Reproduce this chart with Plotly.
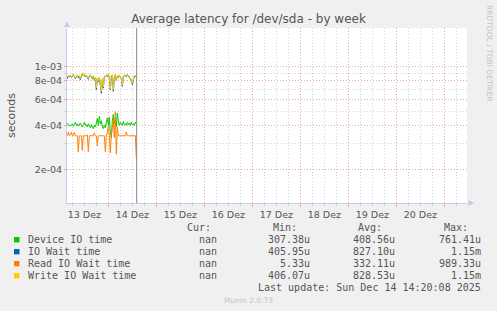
import plotly.graph_objects as go
import pandas as pd
import math

# ---------------- data ----------------
start_time = "2025-12-13 03:30"
n_points = 70
times = pd.date_range(start_time, periods=n_points, freq="30min")

device_io = [4.15e-4, 4.05e-4, 3.95e-4, 4.0e-4, 4.0e-4, 4.1e-4, 3.95e-4, 4.05e-4, 4.2e-4, 4.0e-4,
             4.1e-4, 3.95e-4, 4.05e-4, 4.15e-4, 4.0e-4, 3.9e-4, 4.05e-4, 4.2e-4, 4.0e-4, 4.05e-4,
             3.9e-4, 4.1e-4, 4.0e-4, 3.85e-4, 4.05e-4, 3.95e-4, 3.8e-4, 4.0e-4, 3.9e-4, 4.15e-4,
             4.45e-4, 4.0e-4, 4.6e-4, 4.1e-4, 4.3e-4, 3.9e-4, 3.8e-4, 4.0e-4, 3.85e-4, 4.2e-4,
             4.5e-4, 4.0e-4, 4.55e-4, 3.6e-4, 3.3e-4, 4.3e-4, 4.75e-4, 4.1e-4, 4.4e-4, 3.9e-4,
             4.85e-4, 4.3e-4, 4.0e-4, 4.2e-4, 4.1e-4, 4.0e-4, 4.25e-4, 4.05e-4, 4.1e-4, 4.0e-4,
             4.2e-4, 4.05e-4, 4.15e-4, 4.0e-4, 4.2e-4, 4.05e-4, 4.1e-4, 4.0e-4, 4.2e-4, 4.1e-4]

io_wait = [8.3e-4, 8.65e-4, 8.55e-4, 8.75e-4, 8.45e-4, 8.65e-4, 8.85e-4, 8.55e-4, 8.3e-4, 8.55e-4,
           8.75e-4, 8.4e-4, 8.65e-4, 8.15e-4, 8.55e-4, 9.05e-4, 8.65e-4, 8.85e-4, 8.55e-4, 8.75e-4,
           8.45e-4, 8.2e-4, 8.65e-4, 8.75e-4, 8.55e-4, 8.3e-4, 8.65e-4, 8.1e-4, 8.45e-4, 7.0e-4,
           8.35e-4, 7.9e-4, 8.45e-4, 7.45e-4, 6.6e-4, 8.25e-4, 7.15e-4, 8.55e-4, 8.65e-4, 8.75e-4,
           8.55e-4, 8.85e-4, 8.45e-4, 6.95e-4, 8.55e-4, 8.75e-4, 6.8e-4, 8.45e-4, 8.85e-4, 8.1e-4,
           8.65e-4, 8.45e-4, 8.75e-4, 8.55e-4, 8.35e-4, 7.35e-4, 8.55e-4, 8.75e-4, 8.65e-4, 8.55e-4,
           8.85e-4, 8.65e-4, 8.55e-4, 8.35e-4, 8.1e-4, 7.55e-4, 8.25e-4, 8.65e-4, 8.55e-4, 8.75e-4]

read_io_wait = [3.4e-4, 3.6e-4, 3.4e-4, 3.45e-4, 3.6e-4, 3.4e-4, 3.4e-4, 3.6e-4, 3.4e-4, 3.4e-4,
                3.4e-4, 2.65e-4, 3.4e-4, 3.4e-4, 3.4e-4, 2.7e-4, 3.4e-4, 3.4e-4, 3.4e-4, 3.4e-4,
                3.45e-4, 2.65e-4, 3.4e-4, 3.4e-4, 3.4e-4, 3.4e-4, 3.4e-4, 3.55e-4, 3.4e-4, 3.4e-4,
                2.9e-4, 3.4e-4, 3.4e-4, 3.4e-4, 3.4e-4, 3.4e-4, 3.4e-4, 3.4e-4, 2.65e-4, 3.4e-4,
                3.6e-4, 3.95e-4, 3.4e-4, 2.6e-4, 3.4e-4, 3.9e-4, 4.4e-4, 3.3e-4, 4.96e-4, 2.55e-4,
                3.9e-4, 3.4e-4, 3.4e-4, 3.4e-4, 3.4e-4, 3.4e-4, 3.4e-4, 3.4e-4, 3.4e-4, 3.6e-4,
                3.4e-4, 3.4e-4, 3.4e-4, 3.4e-4, 3.4e-4, 3.4e-4, 3.4e-4, 3.4e-4, 3.4e-4, 2.4e-4]

write_io_wait = [8.5e-4, 8.7e-4, 8.6e-4, 8.8e-4, 8.5e-4, 8.7e-4, 8.9e-4, 8.6e-4, 8.4e-4, 8.6e-4,
                 8.8e-4, 8.5e-4, 8.7e-4, 8.3e-4, 8.6e-4, 9.1e-4, 8.7e-4, 8.9e-4, 8.6e-4, 8.8e-4,
                 8.5e-4, 8.3e-4, 8.7e-4, 8.8e-4, 8.6e-4, 8.4e-4, 8.7e-4, 8.2e-4, 8.5e-4, 7.2e-4,
                 8.4e-4, 8.0e-4, 8.5e-4, 7.6e-4, 6.8e-4, 8.3e-4, 7.3e-4, 8.6e-4, 8.7e-4, 8.8e-4,
                 8.6e-4, 8.9e-4, 8.5e-4, 7.1e-4, 8.6e-4, 8.8e-4, 7.0e-4, 8.5e-4, 8.9e-4, 8.2e-4,
                 8.7e-4, 8.5e-4, 8.8e-4, 8.6e-4, 8.4e-4, 7.5e-4, 8.6e-4, 8.8e-4, 8.7e-4, 8.6e-4,
                 8.9e-4, 8.7e-4, 8.6e-4, 8.4e-4, 8.2e-4, 7.7e-4, 8.3e-4, 8.7e-4, 8.6e-4, 8.8e-4]

series_names = ["Device IO time", "IO Wait time", "Read IO Wait time", "Write IO Wait time"]
series_colors = ["#00CC00", "#0066B3", "#FF8000", "#FFCC00"]
series_values = [device_io, io_wait, read_io_wait, write_io_wait]

cur_vals = ["nan", "nan", "nan", "nan"]
min_vals = ["307.38u", "405.95u", "5.33u", "406.07u"]
avg_vals = ["408.56u", "827.10u", "332.11u", "828.53u"]
max_vals = ["761.41u", "1.15m", "989.33u", "1.15m"]

y_tickvals = [2e-4, 4e-4, 6e-4, 8e-4, 1e-3]
y_ticktext = ["2e-04", "4e-04", "6e-04", "8e-04", "1e-03"]
y_minorvals = [3e-4, 5e-4, 7e-4, 9e-4]

x_range = ["2025-12-13 03:20", "2025-12-21 11:20"]
y_range = [1.19e-4, 1.83e-3]
now_line = "2025-12-14 14:10"

title_text = "Average latency for /dev/sda - by week"
last_update = "Last update: Sun Dec 14 14:20:08 2025"

# ---------------- geometry ----------------
W, H = 497, 311
L, R, T, B = 67, 467, 28, 203


def px(x):
    return (x - L) / (R - L)


def py(y):
    return (B - y) / (B - T)


TXT = "#555555"
MONO = "DejaVu Sans Mono"
SANS = "DejaVu Sans"

fig = go.Figure()
for name, color, vals in zip(series_names, series_colors, series_values):
    fig.add_trace(go.Scatter(x=times, y=vals, mode="lines", name=name,
                             line=dict(color=color, width=1), showlegend=False,
                             hoverinfo="skip"))

fig.update_layout(
    width=W, height=H,
    margin=dict(l=L, r=W - R, t=T, b=H - B, pad=0),
    paper_bgcolor="#F0F0F0", plot_bgcolor="#FFFFFF",
    title=dict(text=title_text, x=0.5, xref="container", xanchor="center",
               y=1 - 19 / H, yref="container", yanchor="middle",
               font=dict(family=SANS, size=12, color=TXT)),
    showlegend=False,
)

fig.update_xaxes(
    type="date", range=x_range,
    tickmode="linear", tick0="2025-12-13", dtick=86400000,
    ticklabelmode="period", tickformat="%d Dez",
    tickfont=dict(family=SANS, size=9.5, color=TXT),
    showgrid=True, gridcolor="#F0A0A0", griddash="1px,2px", gridwidth=1,
    ticks="outside", ticklen=3, tickcolor="#F0A0A0",
    minor=dict(dtick=21600000, tick0="2025-12-13", showgrid=True,
               gridcolor="#D2D2D2", griddash="1px,2px", gridwidth=1,
               ticks="outside", ticklen=2, tickcolor="#D2D2D2"),
    showline=True, linecolor="#C8C8F0", linewidth=1, zeroline=False,
)

fig.update_yaxes(
    type="log", range=[math.log10(y_range[0]), math.log10(y_range[1])],
    tickmode="array", tickvals=y_tickvals, ticktext=y_ticktext,
    tickfont=dict(family=SANS, size=9.5, color=TXT),
    showgrid=True, gridcolor="#F0A0A0", griddash="1px,2px", gridwidth=1,
    ticks="outside", ticklen=2, tickcolor="#F0A0A0",
    minor=dict(tickmode="array", tickvals=y_minorvals, showgrid=True,
               gridcolor="#D2D2D2", griddash="1px,2px", gridwidth=1,
               ticks="outside", ticklen=2, tickcolor="#D2D2D2"),
    showline=True, linecolor="#C8C8F0", linewidth=1, zeroline=False,
)

# data end marker
fig.add_shape(type="line", xref="x", yref="paper", x0=now_line, x1=now_line,
              y0=0, y1=1, line=dict(color="#888888", width=1))

# axis arrows
fig.add_shape(type="path", xref="paper", yref="paper",
              path=f"M {px(64)} {py(27)} L {px(70)} {py(27)} L {px(67)} {py(21.5)} Z",
              fillcolor="#C8C8F0", line=dict(width=0))
fig.add_shape(type="path", xref="paper", yref="paper",
              path=f"M {px(468.5)} {py(200)} L {px(468.5)} {py(206)} L {px(474)} {py(203)} Z",
              fillcolor="#C8C8F0", line=dict(width=0))

ann = []
# y axis title
ann.append(dict(text="seconds", x=px(11), y=py(115), xref="paper", yref="paper",
                showarrow=False, textangle=-90, xanchor="center", yanchor="middle",
                font=dict(family=SANS, size=11, color=TXT)))
# rrdtool credit
ann.append(dict(text="RRDTOOL / TOBI OETIKER", x=px(490), y=py(53), xref="paper", yref="paper",
                showarrow=False, textangle=90, xanchor="center", yanchor="middle",
                font=dict(family=SANS, size=7.5, color="#C4C4C4")))

# legend header
header_y = 227.3
for label, xr in [("Cur:", 213.3), ("Min:", 299), ("Avg:", 384), ("Max:", 470)]:
    ann.append(dict(text=label, x=px(xr), y=py(header_y), xref="paper", yref="paper",
                    showarrow=False, xanchor="right", yanchor="middle",
                    font=dict(family=MONO, size=10, color=TXT)))

row_y0, row_dy = 239.7, 12
for i, name in enumerate(series_names):
    yy = row_y0 + i * row_dy
    fig.add_shape(type="rect", xref="paper", yref="paper",
                  x0=px(14), x1=px(19.5), y0=py(yy - 2.7), y1=py(yy + 2.7),
                  fillcolor=series_colors[i], line=dict(width=0))
    ann.append(dict(text=name, x=px(26), y=py(yy), xref="paper", yref="paper",
                    showarrow=False, xanchor="left", yanchor="middle",
                    font=dict(family=MONO, size=10, color=TXT)))
    for val, xr in [(cur_vals[i], 219.3), (min_vals[i], 311.7),
                    (avg_vals[i], 396.7), (max_vals[i], 482.7)]:
        ann.append(dict(text=val, x=px(xr), y=py(yy), xref="paper", yref="paper",
                        showarrow=False, xanchor="right", yanchor="middle",
                        font=dict(family=MONO, size=10, color=TXT)))

ann.append(dict(text=last_update, x=px(482.7), y=py(287.7), xref="paper", yref="paper",
                showarrow=False, xanchor="right", yanchor="middle",
                font=dict(family=MONO, size=10, color=TXT)))
ann.append(dict(text="Munin 2.0.73", x=px(248), y=py(300), xref="paper", yref="paper",
                showarrow=False, xanchor="center", yanchor="middle",
                font=dict(family=SANS, size=7.5, color="#C4C4C4")))

fig.update_layout(annotations=ann)
fig.write_html("out.html")
